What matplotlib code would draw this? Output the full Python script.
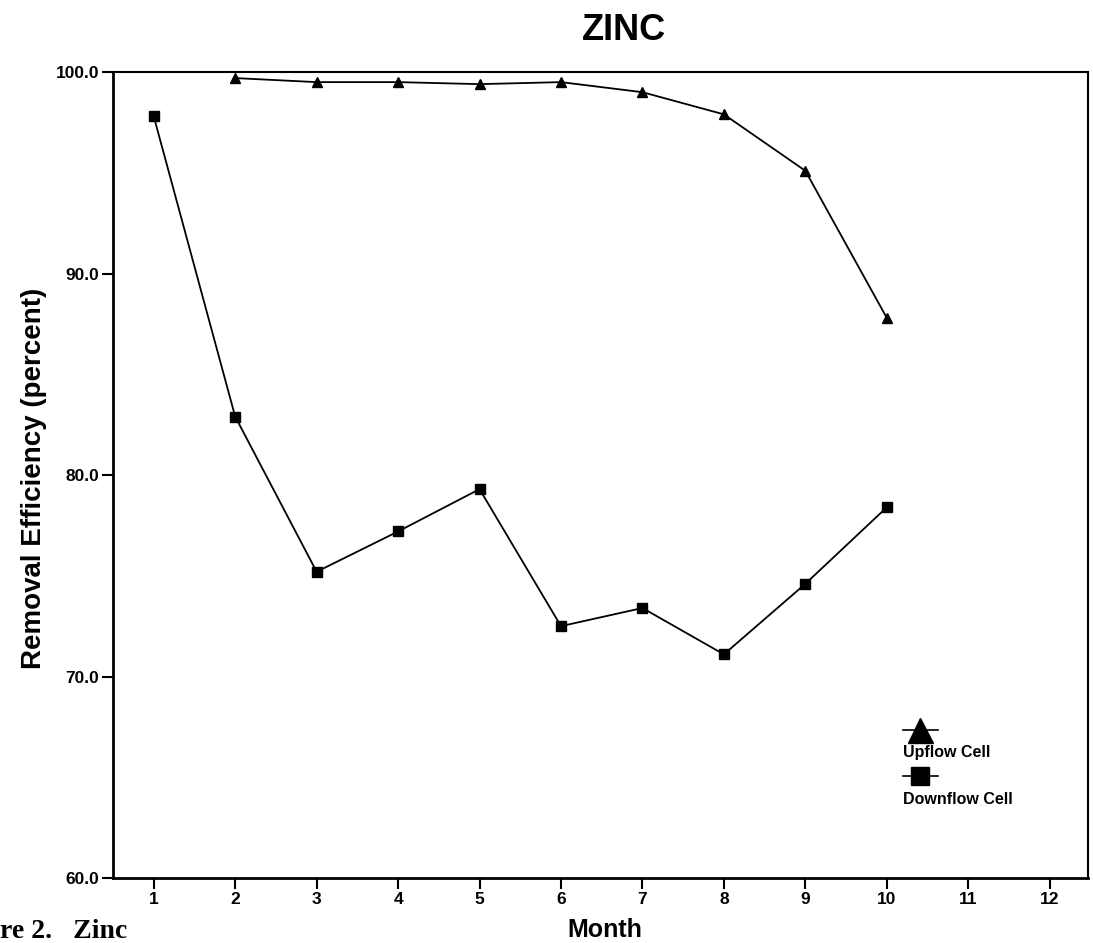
import matplotlib
matplotlib.use("Agg")
import matplotlib.pyplot as plt
from matplotlib.lines import Line2D

# removal efficiency (percent) per month
up_months = [2, 3, 4, 5, 6, 7, 8, 9, 10]
upflow = [99.7, 99.5, 99.5, 99.4, 99.5, 99.0, 97.9, 95.1, 87.8]

down_months = [1, 2, 3, 4, 5, 6, 7, 8, 9, 10]
downflow = [97.8, 82.9, 75.2, 77.2, 79.3, 72.5, 73.4, 71.1, 74.6, 78.4]

x_ticks = list(range(1, 13))
y_ticks = [60.0, 70.0, 80.0, 90.0, 100.0]

plt.rcParams["font.family"] = ["Liberation Sans", "DejaVu Sans"]

fig = plt.figure(figsize=(10.93, 9.43), dpi=100)
ax = fig.add_axes([0.1034, 0.0689, 0.892, 0.8547])

ax.plot(up_months, upflow, color="black", lw=1.3, marker="^", ms=7,
        markerfacecolor="black", markeredgecolor="black")
ax.plot(down_months, downflow, color="black", lw=1.3, marker="s", ms=7,
        markerfacecolor="black", markeredgecolor="black")

ax.set_xlim(0.5, 12.47)
ax.set_ylim(60, 100)
ax.set_xticks(x_ticks)
ax.set_xticklabels([str(m) for m in x_ticks], fontsize=12.5, fontweight="bold")
ax.set_yticks(y_ticks)
ax.set_yticklabels([f"{v:.1f}" for v in y_ticks], fontsize=12.5, fontweight="bold")
ax.tick_params(axis="both", direction="out", length=8, width=1.5, pad=2)

for side in ["left", "bottom"]:
    ax.spines[side].set_linewidth(2)
for side in ["top", "right"]:
    ax.spines[side].set_linewidth(1.5)

ax.set_xlabel("Month", fontsize=18, fontweight="bold")
ax.xaxis.set_label_coords(0.504, -0.050)
ax.set_ylabel("Removal Efficiency (percent)", fontsize=20, fontweight="bold")
ax.yaxis.set_label_coords(-0.068, 0.496)
fig.text(0.571, 0.968, "ZINC", ha="center", va="center", fontsize=26, fontweight="bold")

# legend: marker on top, label underneath
legend_items = [("^", 18, 0.1836, "Upflow Cell"), ("s", 13, 0.126, "Downflow Cell")]
lx0, lx1 = 0.81, 0.846
for mk, size, ly, label in legend_items:
    ax.add_line(Line2D([lx0, lx1], [ly, ly], transform=ax.transAxes, color="black",
                       lw=1.2))
    ax.plot([(lx0 + lx1) / 2], [ly], transform=ax.transAxes, marker=mk, ms=size,
            color="black", clip_on=False)
    ax.text(lx0, ly - 0.019, label, transform=ax.transAxes, fontsize=11.5,
            fontweight="bold", va="top", ha="left")

fig.text(0.0, 0.005, "re 2.   Zinc", family="Liberation Serif", fontsize=20,
         fontweight="bold", ha="left", va="baseline")

fig.savefig("out.png", dpi=100)
